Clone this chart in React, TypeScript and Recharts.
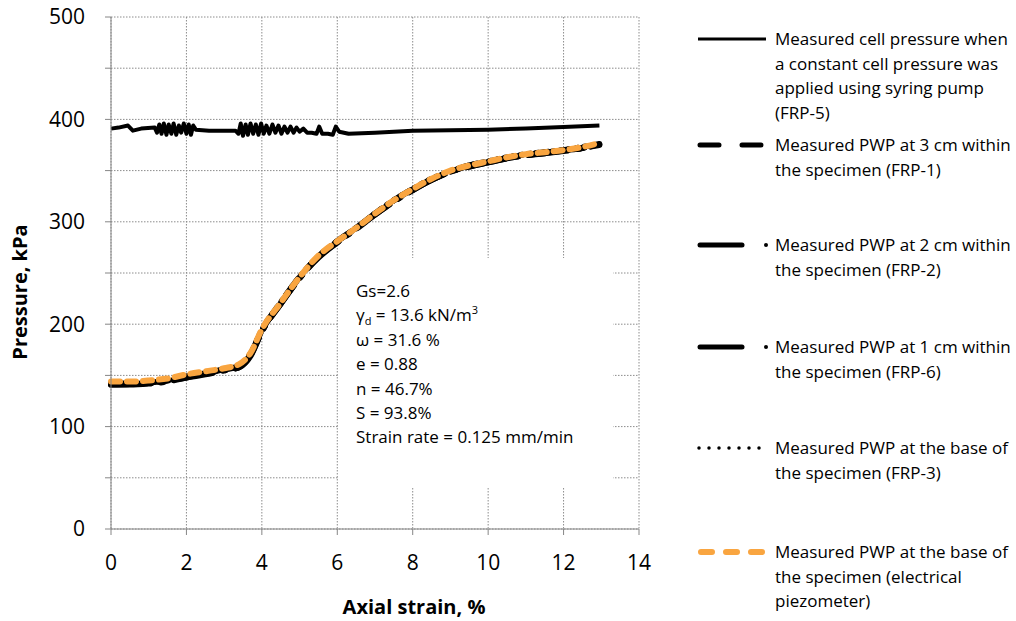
import { LineChart, Line, XAxis, YAxis, CartesianGrid } from 'recharts'

// axial strain (%) / pressure (kPa)
const xTicks = [0, 2, 4, 6, 8, 10, 12, 14]
const yTicks = [0, 50, 100, 150, 200, 250, 300, 350, 400, 450, 500]

// cell pressure, syringe pump (FRP-5)
const cellStrain = [
  0, 0.2, 0.45, 0.58, 0.8, 1.16,
  1.22, 1.28, 1.34, 1.4, 1.47, 1.53, 1.6, 1.66, 1.73, 1.8, 1.86, 1.93, 2.0, 2.06, 2.12, 2.18,
  2.25, 2.6, 3.0, 3.3,
  3.38, 3.44, 3.5, 3.57, 3.63, 3.7, 3.77, 3.84, 3.91, 3.98, 4.05, 4.12, 4.2, 4.28, 4.36, 4.44, 4.52,
  4.6, 4.68, 4.76, 4.84, 4.92, 5.0, 5.1, 5.2,
  5.32, 5.45, 5.52, 5.6, 5.75, 5.88, 5.96, 6.05, 6.3,
  7, 8, 9, 10, 11, 12, 12.95,
]
const cellPressure = [
  391, 392, 394, 389, 391, 392,
  387, 395, 386, 396, 385, 395, 386, 396, 385, 394, 387, 396, 386, 395, 385, 394,
  390, 389, 389, 389,
  386, 396, 384, 395, 385, 396, 386, 395, 385, 396, 386, 394, 386, 395, 387, 394, 386,
  393, 387, 393, 387, 392, 388, 391, 387,
  387, 386, 393, 386, 386, 385, 393, 388, 386,
  387, 389, 389.5, 390, 391, 392.5, 394,
]

// pore water pressure readings
const pwpStrain = [0, 0.5, 1, 1.5, 2, 2.5, 3, 3.4, 3.7, 4, 4.5, 5, 5.5, 6, 6.5, 7, 7.5, 8, 8.5, 9, 9.5, 10, 10.5, 11, 11.5, 12, 12.5, 12.95]
const frp1 = [142, 142, 143, 145, 149, 152, 156, 159, 171, 194, 221, 246, 266, 281, 294, 308, 321, 332, 341, 349, 355, 359, 362, 365, 368, 370, 372, 376]
const frp2 = [141, 141.5, 142.5, 145, 148, 152, 155, 158, 170, 193, 220, 245, 266, 280, 294, 307, 320, 331, 341, 349, 354, 358, 362, 365, 367, 370, 372, 376]
const frp6 = [141, 141, 142, 144, 148, 151, 155, 158, 169, 193, 220, 245, 265, 280, 293, 307, 320, 331, 341, 349, 354, 358, 362, 365, 367, 369, 372, 375]
const frp3 = [142, 142, 143, 145, 149, 152, 156, 159, 171, 194, 221, 246, 266, 281, 294, 308, 321, 332, 342, 349, 355, 359, 363, 366, 368, 370, 373, 376]
const piezo = [144, 144, 145, 147, 151, 154, 157, 161, 172, 195, 221, 246, 267, 281, 294, 308, 321, 332, 342, 350, 355, 359, 363, 366, 368, 370, 373, 377]

const specimenInfo = ['Gs=2.6', 'GAMMA', 'ω = 31.6 %', 'e = 0.88', 'n = 46.7%', 'S = 93.8%', 'Strain rate = 0.125 mm/min']

const ORANGE = '#F9A540'
const AXIS = '#868686'
const FONT = '"Open Sans", sans-serif'

const toRows = (xs: number[], ys: number[]) => xs.map((x, i) => ({ x, y: ys[i] }))

const legendItems = [
  { lines: ['Measured cell pressure when', 'a constant cell pressure was', 'applied using syring pump', '(FRP-5)'], y: 39, kind: 'solid' },
  { lines: ['Measured PWP at 3 cm within', 'the specimen (FRP-1)'], y: 145, kind: 'dash' },
  { lines: ['Measured PWP at 2 cm within', 'the specimen (FRP-2)'], y: 245, kind: 'dashdot' },
  { lines: ['Measured PWP at 1 cm within', 'the specimen (FRP-6)'], y: 347, kind: 'dashdot' },
  { lines: ['Measured PWP at the base of', 'the specimen (FRP-3)'], y: 448, kind: 'dot' },
  { lines: ['Measured PWP at the base of', 'the specimen (electrical', 'piezometer)'], y: 552, kind: 'orange' },
]

function Swatch({ kind }: { kind: string }) {
  return (
    <svg width={72} height={12} style={{ position: 'absolute', left: 0, top: -6 }}>
      {kind === 'solid' && <line x1={1} y1={6} x2={69} y2={6} stroke="#000" strokeWidth={3} />}
      {kind === 'dash' && <line x1={3} y1={6} x2={66} y2={6} stroke="#000" strokeWidth={5} strokeLinecap="round" strokeDasharray="19 23" />}
      {kind === 'dashdot' && (
        <>
          <line x1={3} y1={6} x2={45} y2={6} stroke="#000" strokeWidth={5} strokeLinecap="round" />
          <circle cx={69} cy={6} r={2} fill="#000" />
        </>
      )}
      {kind === 'dot' && <line x1={2} y1={6} x2={70} y2={6} stroke="#000" strokeWidth={3.5} strokeLinecap="round" strokeDasharray="0 10" />}
      {kind === 'orange' && <line x1={4} y1={6} x2={66} y2={6} stroke={ORANGE} strokeWidth={6} strokeLinecap="round" strokeDasharray="11 14" />}
    </svg>
  )
}

const supSub = { fontSize: 11, lineHeight: 0, position: 'relative' as const }

export default function App() {
  const cellData = toRows(cellStrain, cellPressure)
  const blackSeries = [
    { name: 'FRP-1', values: frp1, dash: '20 16' },
    { name: 'FRP-2', values: frp2, dash: '40 10 3 10' },
    { name: 'FRP-6', values: frp6, dash: '40 10 3 10' },
    { name: 'FRP-3', values: frp3, dash: '2 6' },
  ]

  return (
    <div style={{ position: 'absolute', left: 0, top: 0, width: 1016, height: 621, background: '#fff', fontFamily: FONT }}>
      <LineChart width={660} height={621} margin={{ top: 17, right: 21, bottom: 52, left: 0 }}>
        <CartesianGrid stroke="#8c8c8c" strokeDasharray="1.5 1.5" />
        <XAxis
          type="number"
          dataKey="x"
          domain={[0, 14]}
          ticks={xTicks}
          height={40}
          stroke={AXIS}
          tickSize={6}
          tickMargin={20}
          tick={{ fontSize: 21, fill: '#000', fontFamily: FONT }}
          allowDuplicatedCategory={false}
        />
        <YAxis
          type="number"
          domain={[0, 500]}
          ticks={yTicks}
          width={111}
          stroke={AXIS}
          tickSize={6}
          tickMargin={20}
          tick={{ fontSize: 21, fill: '#000', fontFamily: FONT }}
          tickFormatter={(v: number) => (v % 100 === 0 ? String(v) : '')}
        />
        <Line data={cellData} dataKey="y" type="linear" stroke="#000" strokeWidth={4} strokeLinejoin="round" dot={false} isAnimationActive={false} />
        {blackSeries.map(s => (
          <Line
            key={s.name}
            data={toRows(pwpStrain, s.values)}
            dataKey="y"
            type="monotone"
            stroke="#000"
            strokeWidth={6}
            strokeDasharray={s.dash}
            strokeLinecap="round"
            dot={false}
            isAnimationActive={false}
          />
        ))}
        <Line
          data={toRows(pwpStrain, piezo)}
          dataKey="y"
          type="monotone"
          stroke={ORANGE}
          strokeWidth={6}
          strokeDasharray="9 7"
          strokeLinecap="round"
          dot={false}
          isAnimationActive={false}
        />
      </LineChart>

      {/* axis titles */}
      <div style={{ position: 'absolute', left: 414, top: 606, transform: 'translate(-50%, -50%)', fontSize: 20, fontWeight: 700, whiteSpace: 'nowrap' }}>
        Axial strain, %
      </div>
      <div style={{ position: 'absolute', left: 19, top: 292, transform: 'translate(-50%, -50%) rotate(-90deg)', fontSize: 20, fontWeight: 700, whiteSpace: 'nowrap' }}>
        Pressure, kPa
      </div>

      {/* specimen properties box */}
      <div style={{ position: 'absolute', left: 339, top: 258, width: 274, height: 230, background: '#fff' }}>
        {specimenInfo.map((t, i) => (
          <div key={i} style={{ position: 'absolute', left: 17, top: 33 + i * 24.4 - 12, lineHeight: '24px', fontSize: 17, whiteSpace: 'nowrap' }}>
            {t === 'GAMMA' ? (
              <>γ<span style={{ ...supSub, top: 4 }}>d</span> = 13.6 kN/m<span style={{ ...supSub, top: -7 }}>3</span></>
            ) : t}
          </div>
        ))}
      </div>

      {/* legend */}
      {legendItems.map((item, i) => (
        <div key={i} style={{ position: 'absolute', left: 697, top: item.y }}>
          <Swatch kind={item.kind} />
          <div style={{ position: 'absolute', left: 78, top: -12, fontSize: 17, lineHeight: '24.5px', whiteSpace: 'nowrap' }}>
            {item.lines.map((l, j) => <div key={j}>{l}</div>)}
          </div>
        </div>
      ))}
    </div>
  )
}
